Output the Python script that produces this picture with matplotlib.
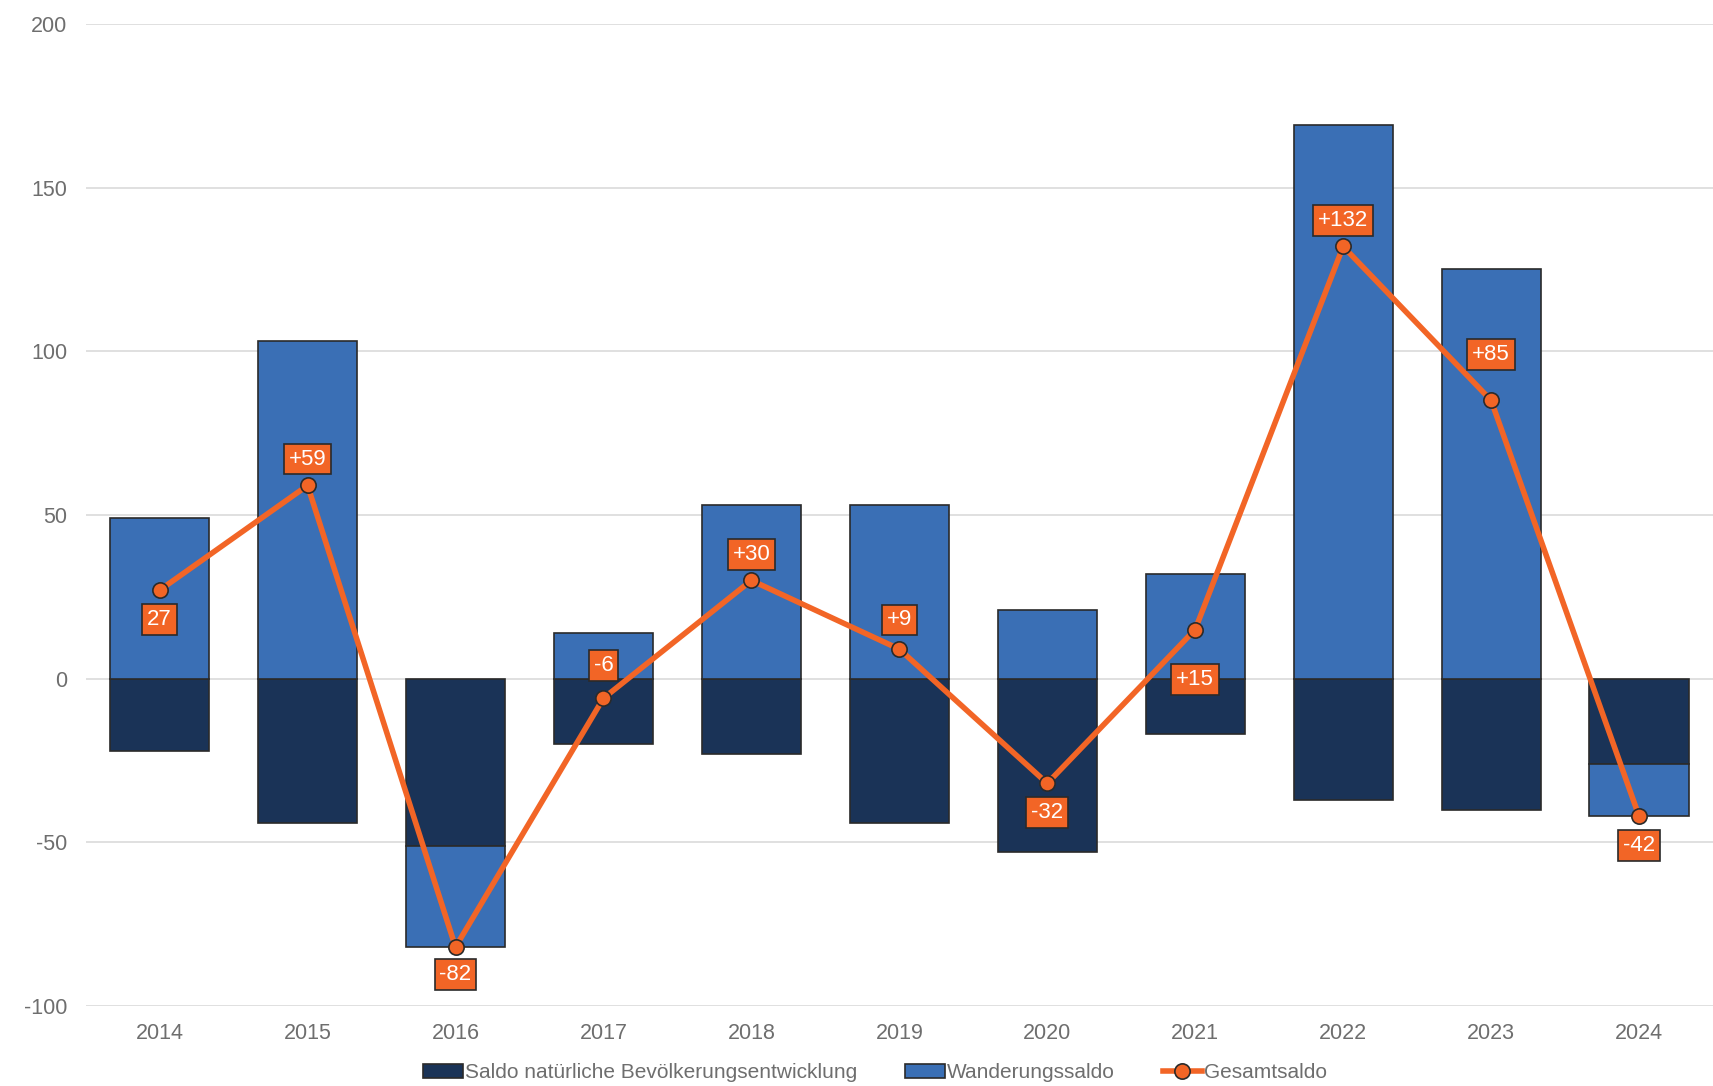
import matplotlib.pyplot as plt
import numpy as np

plt.rcParams['font.family'] = ['Liberation Sans', 'DejaVu Sans']
plt.rcParams['axes.unicode_minus'] = False

years = ['2014', '2015', '2016', '2017', '2018', '2019', '2020', '2021', '2022', '2023', '2024']
natural = [-22, -44, -51, -20, -23, -44, -53, -17, -37, -40, -26]
migration = [49, 103, -31, 14, 53, 53, 21, 32, 169, 125, -16]
total = [27, 59, -82, -6, 30, 9, -32, 15, 132, 85, -42]
labels = ['27', '+59', '-82', '-6', '+30', '+9', '-32', '+15', '+132', '+85', '-42']

navy = '#1A3357'
blue = '#3A6FB5'
orange = '#F26526'
edge = '#2A2A2A'

fig = plt.figure(figsize=(17.13, 10.86), dpi=100)
ax = fig.add_axes([0.05, 0.0737, 0.95, 0.9043])

x = np.arange(len(years))
width = 0.67

# migration bars start at 0 when positive, stack under the natural bar when negative
mig_bottom = [n if m < 0 else 0 for n, m in zip(natural, migration)]

b1 = ax.bar(x, natural, width, color=navy, edgecolor=edge, linewidth=1.2, zorder=2,
            label='Saldo natürliche Bevölkerungsentwicklung')
b2 = ax.bar(x, migration, width, bottom=mig_bottom, color=blue, edgecolor=edge, linewidth=1.2,
            zorder=2, label='Wanderungssaldo')
l1, = ax.plot(x, total, color=orange, linewidth=4, marker='o', markersize=11,
              markerfacecolor=orange, markeredgecolor=edge, markeredgewidth=1.2, zorder=4,
              label='Gesamtsaldo')

# value boxes over/under the points (offset in points, moved clear of the line)
label_offsets = [-21, 19, -20, 23.5, 18.5, 21, -21, -36, 18.5, 33, -21]
for xi, yi, txt, off in zip(x, total, labels, label_offsets):
    ax.annotate(txt, (xi, yi), xytext=(0, off), textcoords='offset points',
                ha='center', va='center', fontsize=16, color='white', zorder=5,
                bbox=dict(boxstyle='square,pad=0.22', fc=orange, ec=edge, lw=1.2))

ax.set_xlim(-0.5, len(years) - 0.5)
ax.set_ylim(-100, 200)
ax.set_yticks([-100, -50, 0, 50, 100, 150, 200])
ax.set_xticks(x)
ax.set_xticklabels(years)
ax.tick_params(axis='both', length=0, labelsize=15.5, labelcolor='#6E6E6E')
ax.tick_params(axis='x', pad=12)
ax.tick_params(axis='y', pad=13)
ax.grid(axis='y', color='#DDDDDD', linewidth=1.3, zorder=0)
ax.set_axisbelow(True)
for s in ax.spines.values():
    s.set_visible(False)

leg = fig.legend(handles=[b1, b2, l1], loc='lower center', bbox_to_anchor=(0.511, -0.014), ncol=3,
                 frameon=False, fontsize=15, handlelength=1.9, handleheight=0.6,
                 handletextpad=0.1, columnspacing=2.3)
for t in leg.get_texts():
    t.set_color('#6E6E6E')

fig.savefig('out.png', dpi=100, facecolor='white')
